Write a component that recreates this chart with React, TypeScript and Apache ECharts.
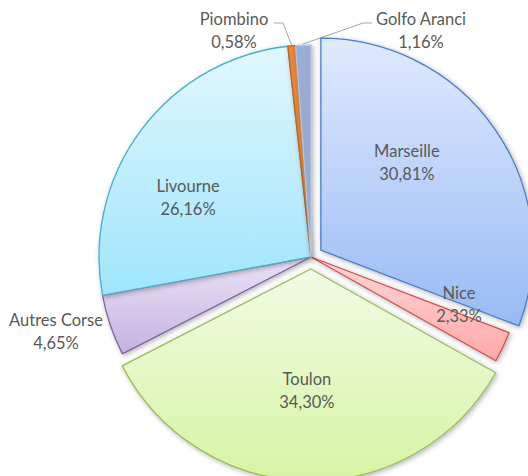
import React, { useEffect, useRef } from 'react';
import * as echarts from 'echarts';

const categories = ['Marseille', 'Nice', 'Toulon', 'Autres Corse', 'Livourne', 'Piombino', 'Golfo Aranci'];
const shares = [30.81, 2.33, 34.3, 4.65, 26.16, 0.58, 1.16];
const exploded = [true, false, true, false, false, false, false];

const topColors = ['#e0eafd', '#ffd6d6', '#f1fbe4', '#ebe3f5', '#e1f7fe', '#e8873a', '#9aadd4'];
const bottomColors = ['#98baf5', '#ffa8a8', '#d6f4a3', '#c5b2e0', '#9fe5fb', '#e0802f', '#93a8d0'];
const borderColors = ['#4a7cc9', '#c9504d', '#9bbb59', '#8064a2', '#4bacc6', '#c0651d', '#b8c4de'];

// label centers for non-exploded slices; exploded slices use an offset from the inner position
const labelCenters: (number[] | null)[] = [
  null,
  [459, 304],
  null,
  [56, 331],
  [188, 197],
  [234, 30],
  [421, 30],
];
const labelOffsets: (number[] | null)[] = [[-20, -20], null, [-2, 16], null, null, null, null];
const leaderLines: Record<number, number[][]> = {
  5: [[292, 46], [283, 23], [274, 23]],
  6: [[303, 44], [363, 23], [372, 23]],
};

const fmt = (v: number) => v.toFixed(2).replace('.', ',') + '%';

export default function App() {
  const ref = useRef<HTMLDivElement>(null);
  useEffect(() => {
    if (!ref.current) return;
    const chart = echarts.init(ref.current, null, { renderer: 'svg' });
    const data = categories.map((name, i) => {
      const fill = new echarts.graphic.LinearGradient(0, 0, 0, 1, [
        { offset: 0, color: topColors[i] },
        { offset: 1, color: bottomColors[i] },
      ]);
      const itemStyle = {
        color: fill,
        borderColor: borderColors[i],
        borderWidth: 1.3,
        shadowBlur: 5,
        shadowColor: 'rgba(0,0,0,0.3)',
        shadowOffsetX: 1.5,
        shadowOffsetY: 1.5,
      };
      const outside = leaderLines[i] !== undefined;
      const label: any = { position: outside ? 'outside' : 'inside' };
      if (labelOffsets[i]) label.offset = labelOffsets[i];
      return {
        name,
        value: shares[i],
        selected: exploded[i],
        itemStyle,
        select: { itemStyle, label },
        emphasis: { disabled: true },
        label,
        labelLine: { show: outside },
      };
    });
    chart.setOption({
      animation: false,
      backgroundColor: '#ffffff',
      series: [
        {
          type: 'pie',
          center: [311, 257],
          radius: [0, 212],
          startAngle: 90,
          clockwise: true,
          selectedMode: 'multiple',
          selectedOffset: 12,
          avoidLabelOverlap: false,
          minAngle: 0,
          data,
          label: {
            show: true,
            formatter: (p: any) => `${p.name}\n${fmt(p.value)}`,
            fontFamily: 'Lato, "Open Sans", sans-serif',
            fontSize: 16.5,
            lineHeight: 23,
            color: '#595959',
            align: 'center',
          },
          labelLine: {
            show: false,
            lineStyle: { color: '#a6a6a6', width: 1 },
          },
          labelLayout: (p: any) => {
            const c = labelCenters[p.dataIndex];
            if (!c) return undefined;
            const out: any = { x: c[0], y: c[1], align: 'center', verticalAlign: 'middle' };
            if (leaderLines[p.dataIndex]) out.labelLinePoints = leaderLines[p.dataIndex];
            return out;
          },
        },
      ],
    });
    return () => chart.dispose();
  }, []);
  return (
    <div
      ref={ref}
      style={{ position: 'fixed', left: 0, top: 0, width: 528, height: 476 }}
    />
  );
}
